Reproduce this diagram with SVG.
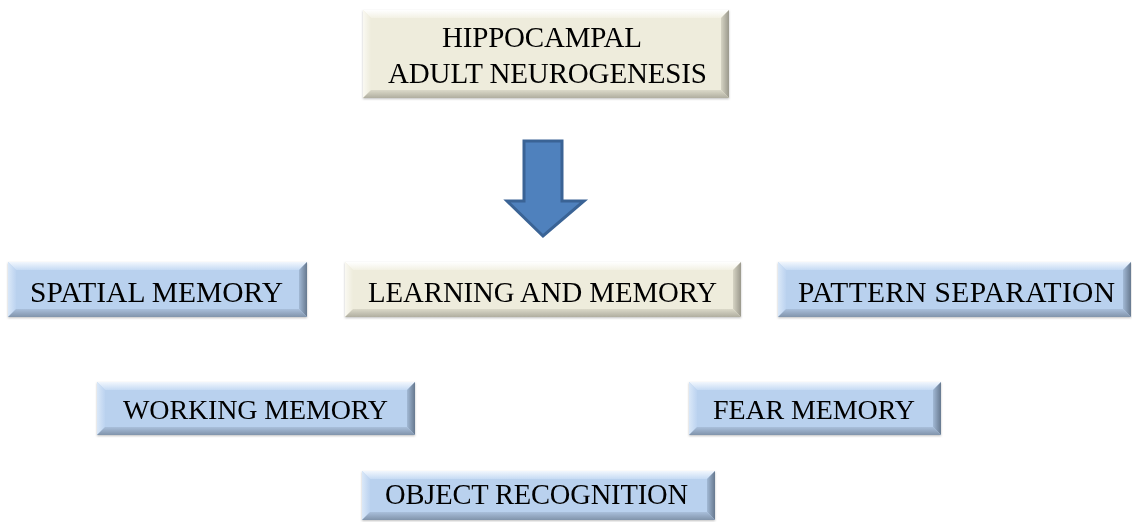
<svg xmlns="http://www.w3.org/2000/svg" width="1132" height="522" viewBox="0 0 1132 522">
<defs>
<linearGradient id="bT" x1="0" y1="0" x2="0" y2="1"><stop offset="0" stop-color="#f2f7fd"/><stop offset="1" stop-color="#c6dbf4"/></linearGradient>
<linearGradient id="bL" x1="0" y1="0" x2="1" y2="0"><stop offset="0" stop-color="#dae8f8"/><stop offset="1" stop-color="#bcd3f0"/></linearGradient>
<linearGradient id="bR" x1="0" y1="0" x2="1" y2="0"><stop offset="0" stop-color="#a2b9d5"/><stop offset="1" stop-color="#67798f"/></linearGradient>
<linearGradient id="bB" x1="0" y1="0" x2="0" y2="1"><stop offset="0" stop-color="#a9bfdb"/><stop offset="1" stop-color="#8194ab"/></linearGradient>
<linearGradient id="cT" x1="0" y1="0" x2="0" y2="1"><stop offset="0" stop-color="#ffffff"/><stop offset="1" stop-color="#f3f1e4"/></linearGradient>
<linearGradient id="cL" x1="0" y1="0" x2="1" y2="0"><stop offset="0" stop-color="#faf9f2"/><stop offset="1" stop-color="#eeecdc"/></linearGradient>
<linearGradient id="cR" x1="0" y1="0" x2="1" y2="0"><stop offset="0" stop-color="#d6d4c4"/><stop offset="1" stop-color="#9a988c"/></linearGradient>
<linearGradient id="cB" x1="0" y1="0" x2="0" y2="1"><stop offset="0" stop-color="#dbd9c9"/><stop offset="1" stop-color="#b0aea0"/></linearGradient>
<filter id="sh" x="-5%" y="-10%" width="110%" height="130%"><feDropShadow dx="0" dy="1" stdDeviation="0.8" flood-color="#000" flood-opacity="0.25"/></filter>
</defs>
<style>
.blue .f{fill:#b9d1ee}
.blue .t{fill:url(#bT)}
.blue .l{fill:url(#bL)}
.blue .r{fill:url(#bR)}
.blue .b{fill:url(#bB)}
.cream .f{fill:#eeecdc}
.cream .t{fill:url(#cT)}
.cream .l{fill:url(#cL)}
.cream .r{fill:url(#cR)}
.cream .b{fill:url(#cB)}
.node{filter:url(#sh)}
text{font-family:"Liberation Serif","Times New Roman",serif;font-size:29px;fill:#000;text-anchor:middle}
</style>

<g id="connectors">
<path d="M524,141 L562,141 L562,201 L584,201 L543,236 L507,201 L524,201 Z" fill="#4f81bd" stroke="#3a6395" stroke-width="3" stroke-linejoin="miter"/>
</g>

<g id="hippocampal" class="node cream">
<rect class="f" x="363" y="10" width="366" height="88"/>
<polygon class="t" points="363,10 729,10 721,18 371,18"/>
<polygon class="l" points="363,10 371,18 371,90 363,98"/>
<polygon class="r" points="729,10 729,98 721,90 721,18"/>
<polygon class="b" points="363,98 371,90 721,90 729,98"/>
<text x="542" y="47" textLength="200">HIPPOCAMPAL</text>
<text x="547.5" y="83" textLength="319">ADULT NEUROGENESIS</text>
</g>

<g id="spatial" class="node blue">
<rect class="f" x="8" y="262" width="299" height="55"/>
<polygon class="t" points="8,262 307,262 299,270 16,270"/>
<polygon class="l" points="8,262 16,270 16,309 8,317"/>
<polygon class="r" points="307,262 307,317 299,309 299,270"/>
<polygon class="b" points="8,317 16,309 299,309 307,317"/>
<text x="156.5" y="301.5" style="font-size:29.5px" textLength="253">SPATIAL MEMORY</text>
</g>

<g id="learning" class="node cream">
<rect class="f" x="345" y="262" width="396" height="55"/>
<polygon class="t" points="345,262 741,262 733,270 353,270"/>
<polygon class="l" points="345,262 353,270 353,309 345,317"/>
<polygon class="r" points="741,262 741,317 733,309 733,270"/>
<polygon class="b" points="345,317 353,309 733,309 741,317"/>
<text x="542.5" y="301.5" style="font-size:28.8px" textLength="349">LEARNING AND MEMORY</text>
</g>

<g id="pattern" class="node blue">
<rect class="f" x="778" y="262" width="353" height="55"/>
<polygon class="t" points="778,262 1131,262 1123,270 786,270"/>
<polygon class="l" points="778,262 786,270 786,309 778,317"/>
<polygon class="r" points="1131,262 1131,317 1123,309 1123,270"/>
<polygon class="b" points="778,317 786,309 1123,309 1131,317"/>
<text x="956.5" y="301.5" style="font-size:29.5px" textLength="317">PATTERN SEPARATION</text>
</g>

<g id="working" class="node blue">
<rect class="f" x="97" y="382" width="318" height="53"/>
<polygon class="t" points="97,382 415,382 407,390 105,390"/>
<polygon class="l" points="97,382 105,390 105,427 97,435"/>
<polygon class="r" points="415,382 415,435 407,427 407,390"/>
<polygon class="b" points="97,435 105,427 407,427 415,435"/>
<text x="255.5" y="418.5" style="font-size:28px" textLength="265">WORKING MEMORY</text>
</g>

<g id="fear" class="node blue">
<rect class="f" x="689" y="382" width="252" height="53"/>
<polygon class="t" points="689,382 941,382 933,390 697,390"/>
<polygon class="l" points="689,382 697,390 697,427 689,435"/>
<polygon class="r" points="941,382 941,435 933,427 933,390"/>
<polygon class="b" points="689,435 697,427 933,427 941,435"/>
<text x="814" y="418.5" style="font-size:28px" textLength="202">FEAR MEMORY</text>
</g>

<g id="object" class="node blue">
<rect class="f" x="362" y="471" width="353" height="49"/>
<polygon class="t" points="362,471 715,471 707,479 370,479"/>
<polygon class="l" points="362,471 370,479 370,512 362,520"/>
<polygon class="r" points="715,471 715,520 707,512 707,479"/>
<polygon class="b" points="362,520 370,512 707,512 715,520"/>
<text x="536.5" y="503.5" style="font-size:28.5px" textLength="303">OBJECT RECOGNITION</text>
</g>
</svg>
